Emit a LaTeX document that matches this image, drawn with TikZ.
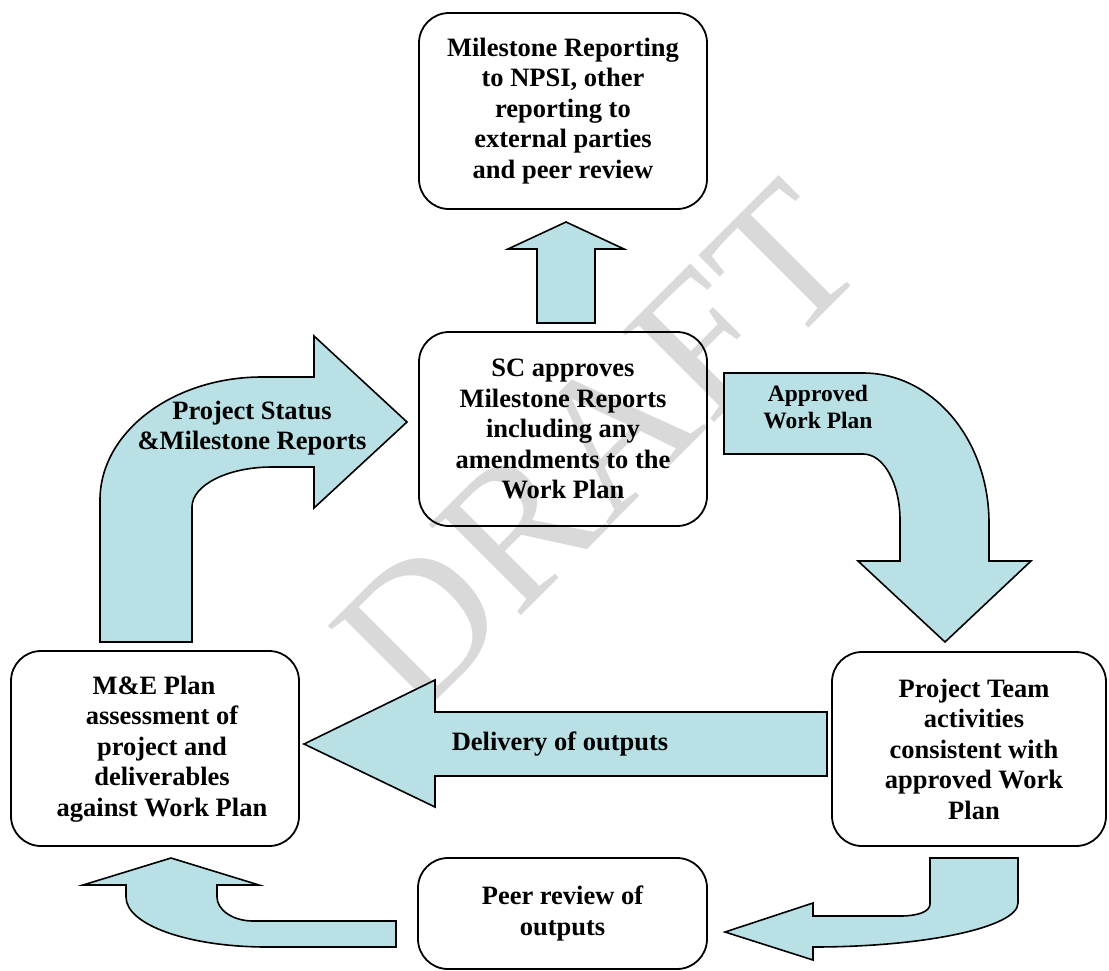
\documentclass[tikz,border=0pt]{standalone}
\usepackage{fontspec}
\setmainfont{Liberation Serif}
\definecolor{arrfill}{RGB}{185,224,228}
\definecolor{wmark}{RGB}{217,217,217}
\begin{document}
\begin{tikzpicture}[x=1pt,y=-1pt,
  box/.style={draw, line width=1.8pt, rounded corners=30pt, align=center, inner sep=0pt,
              font=\fontsize{26.5}{30.5}\selectfont\bfseries},
  blk/.style={draw, line width=1.6pt, fill=arrfill, line join=miter},
  lbl/.style={align=center, inner sep=0pt, font=\fontsize{26.5}{30.5}\selectfont\bfseries}]
\useasboundingbox (0,0) rectangle (1109,970);

% watermark
\node[rotate=45, text=wmark, font=\fontsize{197}{197}\selectfont, inner sep=0pt] (wm) at (598,447) {DRAFT};

% boxes
\node[box, minimum width=288pt, minimum height=196pt] (top) at (563,111)
  {Milestone Reporting\\to NPSI, other\\reporting to\\external parties\\and peer review};
\node[box, minimum width=288pt, minimum height=194pt] (sc) at (563,429)
  {SC approves\\Milestone Reports\\including any\\amendments to the\\Work Plan};
\node[box, minimum width=288pt, minimum height=195pt] (me) at (155,748.5) {};
\node[lbl] (metext) at (162,749)
  {M\&E Plan\hspace*{16pt}\\assessment of\\project and\\deliverables\\against Work Plan};
\node[box, minimum width=274pt, minimum height=194pt] (team) at (969,749) {};
\node[lbl] (teamtext) at (974,749)
  {Project Team\\activities\\consistent with\\approved Work\\Plan};
\node[box, minimum width=289pt, minimum height=111pt] (peer) at (562.5,913.5)
  {Peer review of\\outputs};

% up arrow sc -> top
\draw[blk] (537,323) -- (537,249) -- (508,249) -- (566,222) -- (624,249) -- (595,249) -- (595,323) -- cycle;

% Project Status arrow me -> sc
\draw[blk] (100,642) -- (100,500) .. controls (100,432) and (173,377) .. (262,377)
  -- (314,377) -- (314,336) -- (407,422) -- (314,508) -- (314,467) -- (272,467)
  .. controls (228,467) and (192,485) .. (192,507) -- (192,642) -- cycle;

% Approved Work Plan arrow sc -> team
\draw[blk] (724,373) -- (863,373) .. controls (933,373) and (989,440) .. (989,523)
  -- (989,561) -- (1031,561) -- (945,642) -- (858,561) -- (900,561) -- (900,520)
  .. controls (900,484) and (884,454) .. (863,454) -- (724,454) -- cycle;

% Delivery arrow team -> me
\draw[blk] (827,712) -- (435,712) -- (435,680) -- (304,744) -- (435,807) -- (435,776) -- (827,776) -- cycle;

% U arrow team -> peer
\draw[blk] (930,858) -- (1018,858) -- (1018,903) .. controls (1018,927) and (926,947) .. (813,947)
  -- (813,960) -- (725,932) -- (813,903) -- (813,916) -- (900,916)
  .. controls (917,916) and (930,912) .. (930,904) -- cycle;

% U arrow peer -> me
\draw[blk] (396,921) -- (253,921) .. controls (233,921) and (217,910) .. (217,897)
  -- (217,885) -- (259,885) -- (171,858) -- (83,885) -- (126,885) -- (126,897)
  .. controls (126,925) and (189,947) .. (267,947) -- (396,947) -- cycle;

% arrow labels
\node[lbl] (ps) at (252,428) {Project Status\\\&Milestone Reports};
\node[lbl, font=\fontsize{23.5}{27}\selectfont\bfseries] (awp) at (818,407) {Approved\\Work Plan};
\node[lbl] (dl) at (560,744) {Delivery of outputs};
\end{tikzpicture}
\end{document}
